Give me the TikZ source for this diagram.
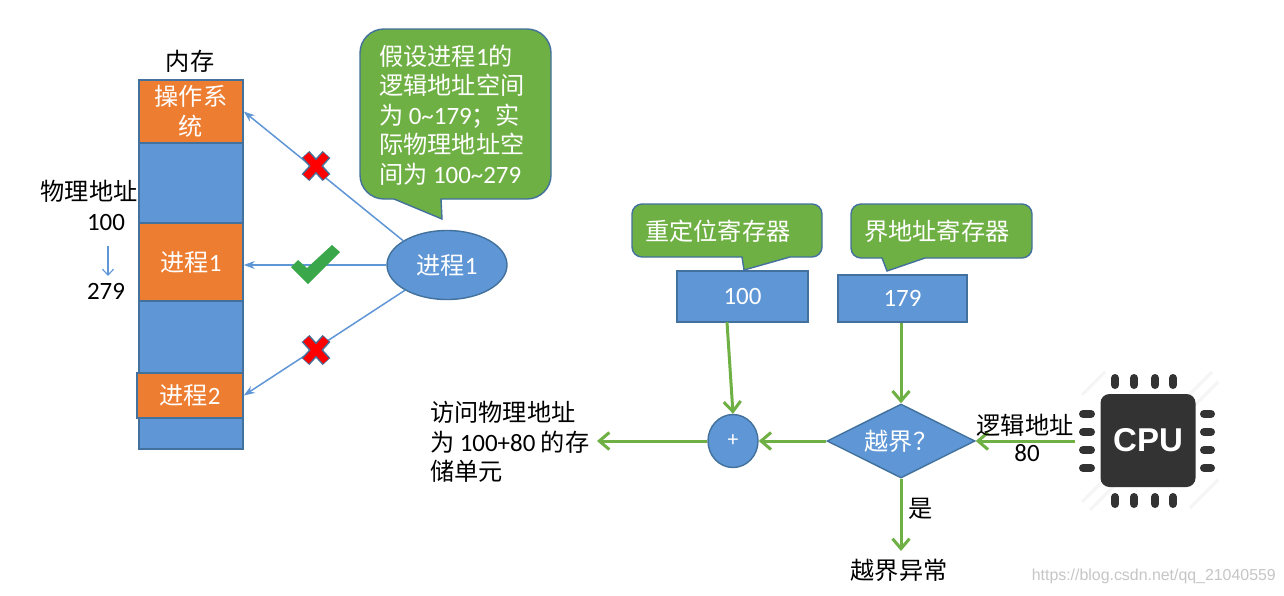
\documentclass[tikz,border=0pt]{standalone}
\usepackage{fontspec}
\setmainfont{Noto Sans CJK SC}
\newfontfamily\lat[Scale=1.03]{Carlito}
\newfontfamily\wm{Liberation Sans}
\newfontfamily\cpufont{Liberation Sans}
\usetikzlibrary{arrows.meta,shapes.geometric}
\definecolor{bfill}{HTML}{5F96D5}
\definecolor{bline}{HTML}{41719C}
\definecolor{ofill}{HTML}{ED7D31}
\definecolor{gfill}{HTML}{6FB044}
\definecolor{chk}{HTML}{39A74A}
\definecolor{chip}{HTML}{333333}
\tikzset{
  txt/.style={font=\fontsize{24.2}{29.5}\selectfont,inner sep=0pt,align=center},
  lbl/.style={txt,text=black},
  seg/.style={draw=bline,line width=1.6pt,inner sep=0pt,txt,text=white},
  bluebox/.style={seg,fill=bfill},
  orangebox/.style={seg,fill=ofill},
  callout/.style={draw=bline,line width=1.4pt,fill=gfill},
  calltext/.style={txt,text=white,align=left},
  thinarrow/.style={draw=bfill,line width=1.5pt,-{Stealth[length=11pt,width=8pt]}},
  greenarrow/.style={draw=gfill,line width=3pt,-{Straight Barb[length=10pt,width=17pt,line width=3pt]}},
  pin/.style={draw=chip,line width=8pt,line cap=round},
  stripe/.style={draw=gray!8,line width=3pt},
  pics/xmark/.style={code={
    \draw[bline,line width=10.5pt] (-10.5,-11.5) -- (10.5,11.5) (-10.5,11.5) -- (10.5,-11.5);
    \draw[red,line width=7.5pt] (-10,-11) -- (10,11) (-10,11) -- (10,-11);
  }}
}
\begin{document}
\begin{tikzpicture}[x=1pt,y=-1pt]
\useasboundingbox (0,0) rectangle (1284,595);
\fill[white] (0,0) rectangle (1284,595);

% memory column
\node[bluebox,minimum width=104pt,minimum height=369pt] (mem) at (191,264.5) {};
\node[orangebox,minimum width=104pt,minimum height=63pt] (os) at (191,111.5) {操作系\\统};
\node[orangebox,minimum width=104pt,minimum height=78pt] (p1) at (191,262) {进程{\lat 1}};
\node[orangebox,minimum width=106pt,minimum height=45pt] (p2) at (190,395.5) {进程{\lat 2}};
\node[lbl] (memt) at (190,61) {内存};
\node[lbl] (phys) at (89,191) {物理地址};
\node[lbl] (a100) at (106,222) {\lat 100};
\node[lbl] (a279) at (106,291) {\lat 279};
\draw[draw=bfill,line width=1.1pt,-{Straight Barb[length=6pt,width=11pt]}] (108,246) -- (108,276);

% process 1
\node[draw=bline,line width=1.4pt,fill=bfill,ellipse,minimum width=120pt,minimum height=69pt,inner sep=0pt,txt,text=white] (e) at (447,265) {进程{\lat 1}};
\draw[thinarrow] (e.151) -- (os.east);
\draw[thinarrow] (e.west) -- (e.west -| p1.east);
\draw[thinarrow] (e.211) -- (p2.east);
\pic at (316,166) {xmark};
\pic at (316,350) {xmark};
\fill[chk] (291,267) -- (298,260) -- (307,268) -- (332,245) -- (340,252) -- (308,284) -- cycle;

% big callout
\draw[callout,rounded corners=24pt] (441,199) -- (551,199) -- (551,29) -- (360,29) -- (360,199) [sharp corners] -- (394,199) -- (442,219) -- cycle;
\node[calltext,anchor=west] (ct) at (379,115) {假设进程{\lat 1}的\\逻辑地址空间\\为 {\lat 0\textasciitilde179}；实\\际物理地址空\\间为 {\lat 100\textasciitilde279}};

% registers
\draw[callout,rounded corners=10pt] (790,257) -- (822,257) -- (822,204) -- (632,204) -- (632,257) [sharp corners] -- (742,257) -- (744,270) -- cycle;
\node[calltext,anchor=west] (c1t) at (645,231) {重定位寄存器};
\draw[callout,rounded corners=10pt] (925,258) -- (1032,258) -- (1032,204) -- (851,204) -- (851,258) [sharp corners] -- (882,258) -- (887,271) -- cycle;
\node[calltext,anchor=west] (c2t) at (864,231) {界地址寄存器};
\node[bluebox,minimum width=131pt,minimum height=51pt] (r100) at (742.5,296.5) {\lat 100};
\node[bluebox,minimum width=129pt,minimum height=47pt] (r179) at (902.5,298.5) {\lat 179};

% flow
\node[draw=bline,line width=1.4pt,fill=bfill,ellipse,minimum width=50pt,minimum height=53pt,inner sep=0pt,text=white,font=\fontsize{21}{22}\selectfont] (plus) at (733,441) {\lat +};
\node[draw=bline,line width=1.4pt,fill=bfill,diamond,aspect=2,minimum width=148pt,minimum height=74pt,inner sep=0pt,txt,text=white] (dia) at (901,441) {越界？};
\node[lbl,align=left,anchor=west] (acc) at (430,442) {访问物理地址\\为 {\lat 100+80} 的存\\储单元};
\node[lbl] (exc) at (899,570) {越界异常};
\node[lbl] (yes) at (921,509) {是};
\coordinate (cpuin) at (1075,441);
\coordinate (r100out) at (727,322);
\coordinate (accin) at (597,441);
\coordinate (excin) at (901,551);

\draw[greenarrow] (r100out) -- (plus.north);
\draw[greenarrow] (r179.south -| dia.north) -- (dia.north);
\draw[greenarrow] (dia.west) -- (plus.east);
\draw[greenarrow] (plus.west) -- (accin);
\draw[greenarrow] (cpuin) -- (dia.east);
\draw[greenarrow] (dia.south) -- (excin);

\node[lbl] (logi) at (1025,425) {逻辑地址};
\node[lbl] (v80) at (1027,453) {\lat 80};

% cpu chip
\begin{scope}
\draw[stripe] (1082,395) -- (1105,372);
\draw[stripe] (1082,502) -- (1212,372);
\draw[stripe] (1090,510) -- (1218,382);
\draw[stripe] (1190,508) -- (1218,480);
\end{scope}
\foreach \px in {1115,1134,1155,1173}{
  \draw[pin] (\px,378) -- (\px,385);
  \draw[pin] (\px,497) -- (\px,504);
}
\foreach \py in {414,432,450,468}{
  \draw[pin] (1083,\py) -- (1091,\py);
  \draw[pin] (1204,\py) -- (1211,\py);
}
\node[fill=chip,rounded corners=9pt,minimum width=95pt,minimum height=93pt,inner sep=0pt,text=white,font=\cpufont\bfseries\fontsize{33}{36}\selectfont] (cpu) at (1148,440.5) {CPU};

% watermark
\node[inner sep=0pt,anchor=east,text=gray!45,font=\wm\fontsize{15.9}{18}\selectfont] (wm) at (1276,576) {https://blog.csdn.net/qq\_21040559};
\end{tikzpicture}
\end{document}
